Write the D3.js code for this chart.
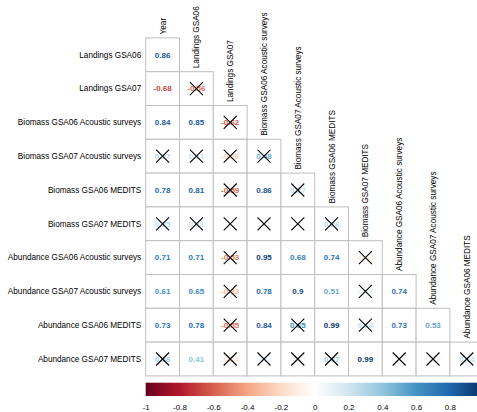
<!DOCTYPE html>
<html>
<head>
<meta charset="utf-8">
<script src="https://cdn.jsdelivr.net/npm/d3@7"></script>
<style>
  body { margin: 0; background: #fff; }
  text { font-family: "Liberation Sans", Arial, sans-serif; }
</style>
</head>
<body>
<div id="container"></div>
<script>
// Etiquetas de filas y columnas (triángulo inferior sin diagonal)
const rowLabels = ["Landings GSA06", "Landings GSA07", "Biomass GSA06 Acoustic surveys",
  "Biomass GSA07 Acoustic surveys", "Biomass GSA06 MEDITS", "Biomass GSA07 MEDITS",
  "Abundance GSA06 Acoustic surveys", "Abundance GSA07 Acoustic surveys",
  "Abundance GSA06 MEDITS", "Abundance GSA07 MEDITS"];
const colLabels = ["Year", "Landings GSA06", "Landings GSA07", "Biomass GSA06 Acoustic surveys",
  "Biomass GSA07 Acoustic surveys", "Biomass GSA06 MEDITS", "Biomass GSA07 MEDITS",
  "Abundance GSA06 Acoustic surveys", "Abundance GSA07 Acoustic surveys", "Abundance GSA06 MEDITS"];

// Correlaciones por fila
const corr = [
  [0.86],
  [-0.68, -0.56],
  [0.84, 0.85, -0.62],
  [0.27, 0.21, -0.26, 0.48],
  [0.78, 0.81, -0.59, 0.86, 0.27],
  [0.25, 0.21, 0.04, 0.05, 0.01, 0.26],
  [0.71, 0.71, -0.53, 0.95, 0.68, 0.74, -0.11],
  [0.61, 0.65, -0.33, 0.78, 0.9, 0.51, 0.12, 0.74],
  [0.73, 0.78, -0.55, 0.84, 0.65, 0.99, 0.24, 0.73, 0.53],
  [0.36, 0.41, -0.14, 0.09, 0.07, 0.37, 0.99, 0.01, 0.09, 0.24]
];
// 1 = no significativo (tachado)
const crossed = [
  [0],
  [0, 1],
  [0, 0, 1],
  [1, 1, 1, 1],
  [0, 0, 1, 0, 1],
  [1, 1, 1, 1, 1, 1],
  [0, 0, 1, 0, 0, 0, 1],
  [0, 0, 1, 0, 0, 0, 1, 0],
  [0, 0, 1, 0, 1, 0, 1, 0, 0],
  [1, 0, 1, 1, 1, 1, 0, 1, 1, 1]
];
// ticks visibles de la barra de color (el 1 queda fuera de la imagen)
const legendTicks = [-1, -0.8, -0.6, -0.4, -0.2, 0, 0.2, 0.4, 0.6, 0.8];

const WIDTH = 477, HEIGHT = 412;
const gridLeft = 145.7, gridTop = 37.9, cell = 33.8;

const svg = d3.select('#container').append('svg')
  .attr("width", WIDTH).attr("height", HEIGHT);

const xScale = d3.scaleBand().domain(colLabels)
  .range([gridLeft, gridLeft + cell * colLabels.length]);
const yScale = d3.scaleBand().domain(rowLabels)
  .range([gridTop, gridTop + cell * rowLabels.length]);

// paleta RdBu de corrplot
const palette = ["#67001F", "#B2182B", "#D6604D", "#F4A582", "#FDDBC7", "#FFFFFF",
  "#D1E5F0", "#92C5DE", "#4393C3", "#2166AC", "#053061"];
const cScale = d3.scaleLinear()
  .domain(d3.range(11).map(i => -1 + i * 0.2))
  .range(palette);

const cells = [];
corr.forEach((row, i) => row.forEach((v, j) => {
  cells.push({ r: rowLabels[i], c: colLabels[j], v: v, x: crossed[i][j] });
}));

const g = svg.append("g");
const cg = g.selectAll("g.cell").data(cells).join("g")
  .attr("transform", d => `translate(${xScale(d.c)},${yScale(d.r)})`);

cg.append("rect")
  .attr("width", xScale.bandwidth()).attr("height", yScale.bandwidth())
  .attr("fill", "#fff").attr("stroke", "#BEBEBE").attr("stroke-width", 1);

cg.append("text")
  .attr("x", xScale.bandwidth() / 2).attr("y", yScale.bandwidth() / 2)
  .attr("dy", "0.35em")
  .attr("text-anchor", "middle")
  .attr("font-size", 8).attr("font-weight", "bold")
  .attr("fill", d => cScale(d.v))
  .text(d => String(d.v));

// aspa de no significativo
const xs = 6.5;
cg.filter(d => d.x === 1).each(function () {
  const s = d3.select(this), cx = xScale.bandwidth() / 2, cy = yScale.bandwidth() / 2;
  s.append("path")
    .attr("d", `M${cx - xs},${cy - xs}L${cx + xs},${cy + xs}M${cx - xs},${cy + xs}L${cx + xs},${cy - xs}`)
    .attr("stroke", "#000").attr("stroke-width", 1.1).attr("fill", "none");
});

// etiquetas de filas
svg.append("g").selectAll("text").data(rowLabels).join("text")
  .attr("x", gridLeft - 4.5)
  .attr("y", d => yScale(d) + yScale.bandwidth() / 2)
  .attr("dy", "0.35em")
  .attr("text-anchor", "end")
  .attr("font-size", 8.2)
  .attr("fill", "#000")
  .text(d => d);

// etiquetas de columnas (rotadas, sobre la primera celda de cada columna)
svg.append("g").selectAll("text").data(colLabels).join("text")
  .attr("transform", (d, j) =>
    `translate(${xScale(d) + xScale.bandwidth() / 2 + 3},${yScale(rowLabels[j]) - 3.5}) rotate(-90)`)
  .attr("text-anchor", "start")
  .attr("font-size", 8.2)
  .attr("fill", "#000")
  .text(d => d);

// barra de color
const lScale = d3.scaleLinear().domain([-1, 1])
  .range([gridLeft, gridLeft + cell * colLabels.length]);
const defs = svg.append("defs");
const grad = defs.append("linearGradient").attr("id", "cbar")
  .attr("gradientUnits", "userSpaceOnUse")
  .attr("x1", lScale(-1)).attr("x2", lScale(1)).attr("y1", 0).attr("y2", 0);
grad.selectAll("stop").data(cScale.domain()).join("stop")
  .attr("offset", d => (d + 1) / 2)
  .attr("stop-color", d => cScale(d));

const barTop = 382.7, barH = 13.3;
svg.append("rect")
  .attr("x", lScale(-1)).attr("y", barTop)
  .attr("width", lScale(1) - lScale(-1)).attr("height", barH)
  .attr("fill", "url(#cbar)");

const lAxis = d3.axisBottom(lScale)
  .tickValues(legendTicks)
  .tickSize(0)
  .tickFormat(d => String(+d.toFixed(1)));
svg.append("g")
  .attr("transform", `translate(0,${barTop + barH + 5.5})`)
  .call(lAxis)
  .call(a => a.select(".domain").remove())
  .selectAll("text")
  .attr("font-size", 8)
  .attr("font-family", "Liberation Sans, Arial, sans-serif")
  .attr("fill", "#000");
</script>
</body>
</html>
